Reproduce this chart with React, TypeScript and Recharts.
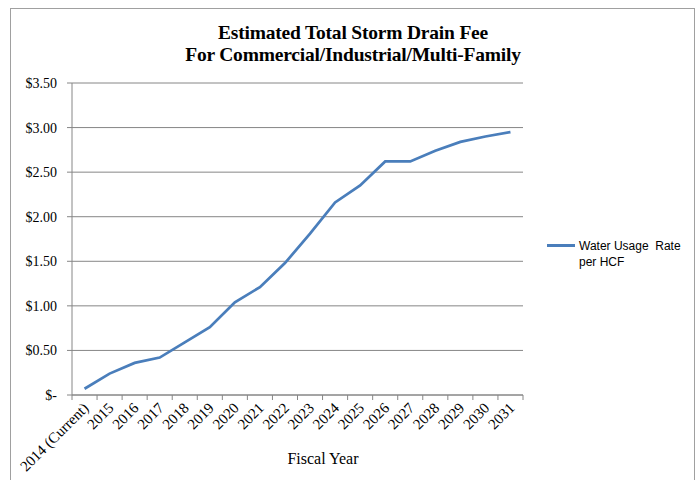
import { LineChart, Line, XAxis, YAxis, CartesianGrid, Legend } from "recharts";

const years = [
  "2014 (Current)", "2015", "2016", "2017", "2018", "2019", "2020", "2021", "2022",
  "2023", "2024", "2025", "2026", "2027", "2028", "2029", "2030", "2031",
];
const waterRate = [
  0.07, 0.24, 0.36, 0.42, 0.59, 0.76, 1.04, 1.21, 1.48,
  1.81, 2.16, 2.35, 2.62, 2.62, 2.74, 2.84, 2.9, 2.95,
];
const yTicks = [0, 0.5, 1, 1.5, 2, 2.5, 3, 3.5];
const seriesName = "Water Usage  Rate per HCF";

const data = years.map((year, i) => ({ i, year, rate: waterRate[i] }));

const W = 700;
const H = 480;
const margin = { top: 83, right: 177, left: 0, bottom: 0 };
const Y_AXIS_W = 72;
const X_AXIS_H = 85;
const PLOT_W = W - Y_AXIS_W - margin.right;
const BAND = PLOT_W / years.length;

const AXIS = "#868686";
const BLUE = "#4a7ebb";
const SERIF = "'Liberation Serif', 'Times New Roman', serif";

function formatDollar(v: number): string {
  return v === 0 ? "$-" : `$${v.toFixed(2)}`;
}

type TickProps = { x?: number; y?: number; index?: number; payload?: { value: number } };

function YearTick({ x = 0, y = 0, index = 0, payload }: TickProps) {
  const label = years[payload?.value ?? index];
  return (
    <g>
      <line x1={x - BAND / 2} y1={y} x2={x - BAND / 2} y2={y + 5} stroke={AXIS} />
      {index === years.length - 1 && (
        <line x1={x + BAND / 2} y1={y} x2={x + BAND / 2} y2={y + 5} stroke={AXIS} />
      )}
      <text
        transform={`translate(${x + 5},${y + 14}) rotate(-45)`}
        textAnchor="end"
        fontFamily={SERIF}
        fontSize={15}
        fill="#000"
      >
        {label}
      </text>
    </g>
  );
}

function LegendBox({ payload }: { payload?: Array<{ value: string; color?: string }> }) {
  if (!payload?.length) return null;
  const item = payload[0];
  return (
    <div style={{ display: "flex", alignItems: "flex-start", fontFamily: "'Liberation Sans', Arial, sans-serif", fontSize: 12, lineHeight: "16px", color: "#000" }}>
      <div style={{ width: 28, height: 3, background: item.color, marginTop: 6, marginRight: 4 }} />
      <div style={{ width: 108, whiteSpace: "pre-wrap" }}>{item.value}</div>
    </div>
  );
}

export default function App() {
  return (
    <div style={{ position: "fixed", left: 0, top: 0, width: W, height: H, background: "#fff", overflow: "hidden" }}>
      <div style={{ position: "absolute", left: 10, top: 8, width: 685, height: 500, border: "1px solid #a0a0a0", boxSizing: "border-box" }} />
      <div
        style={{
          position: "absolute", left: 103, top: 22, width: 500, textAlign: "center",
          fontFamily: SERIF, fontWeight: "bold", fontSize: 19.5, lineHeight: "22px", color: "#000",
          letterSpacing: -0.2,
        }}
      >
        Estimated Total Storm Drain Fee
        <br />
        For Commercial/Industrial/Multi-Family
      </div>
      <LineChart width={W} height={H} data={data} margin={margin}>
        <CartesianGrid vertical={false} stroke={AXIS} strokeWidth={1} />
        <XAxis
          dataKey="i"
          type="number"
          domain={[-0.5, years.length - 0.5]}
          allowDataOverflow
          ticks={data.map((d) => d.i)}
          interval={0}
          height={X_AXIS_H}
          stroke={AXIS}
          tickLine={false}
          tickSize={0}
          tickMargin={0}
          tick={<YearTick />}
        />
        <YAxis
          domain={[0, 3.5]}
          ticks={yTicks}
          width={Y_AXIS_W}
          stroke={AXIS}
          tickSize={5}
          tickMargin={10}
          tickFormatter={formatDollar}
          tick={{ fontFamily: SERIF, fontSize: 14, fill: "#000" }}
          interval={0}
        />
        <Legend
          layout="vertical"
          align="center"
          verticalAlign="middle"
          wrapperStyle={{ left: 547, top: 238, width: 150 }}
          content={<LegendBox />}
        />
        <Line
          type="linear"
          dataKey="rate"
          name={seriesName}
          stroke={BLUE}
          strokeWidth={2.75}
          dot={false}
          activeDot={false}
          isAnimationActive={false}
        />
      </LineChart>
      <div
        style={{
          position: "absolute", left: 223, top: 450, width: 200, textAlign: "center",
          fontFamily: SERIF, fontSize: 16, lineHeight: "18px", color: "#000",
        }}
      >
        Fiscal Year
      </div>
    </div>
  );
}
